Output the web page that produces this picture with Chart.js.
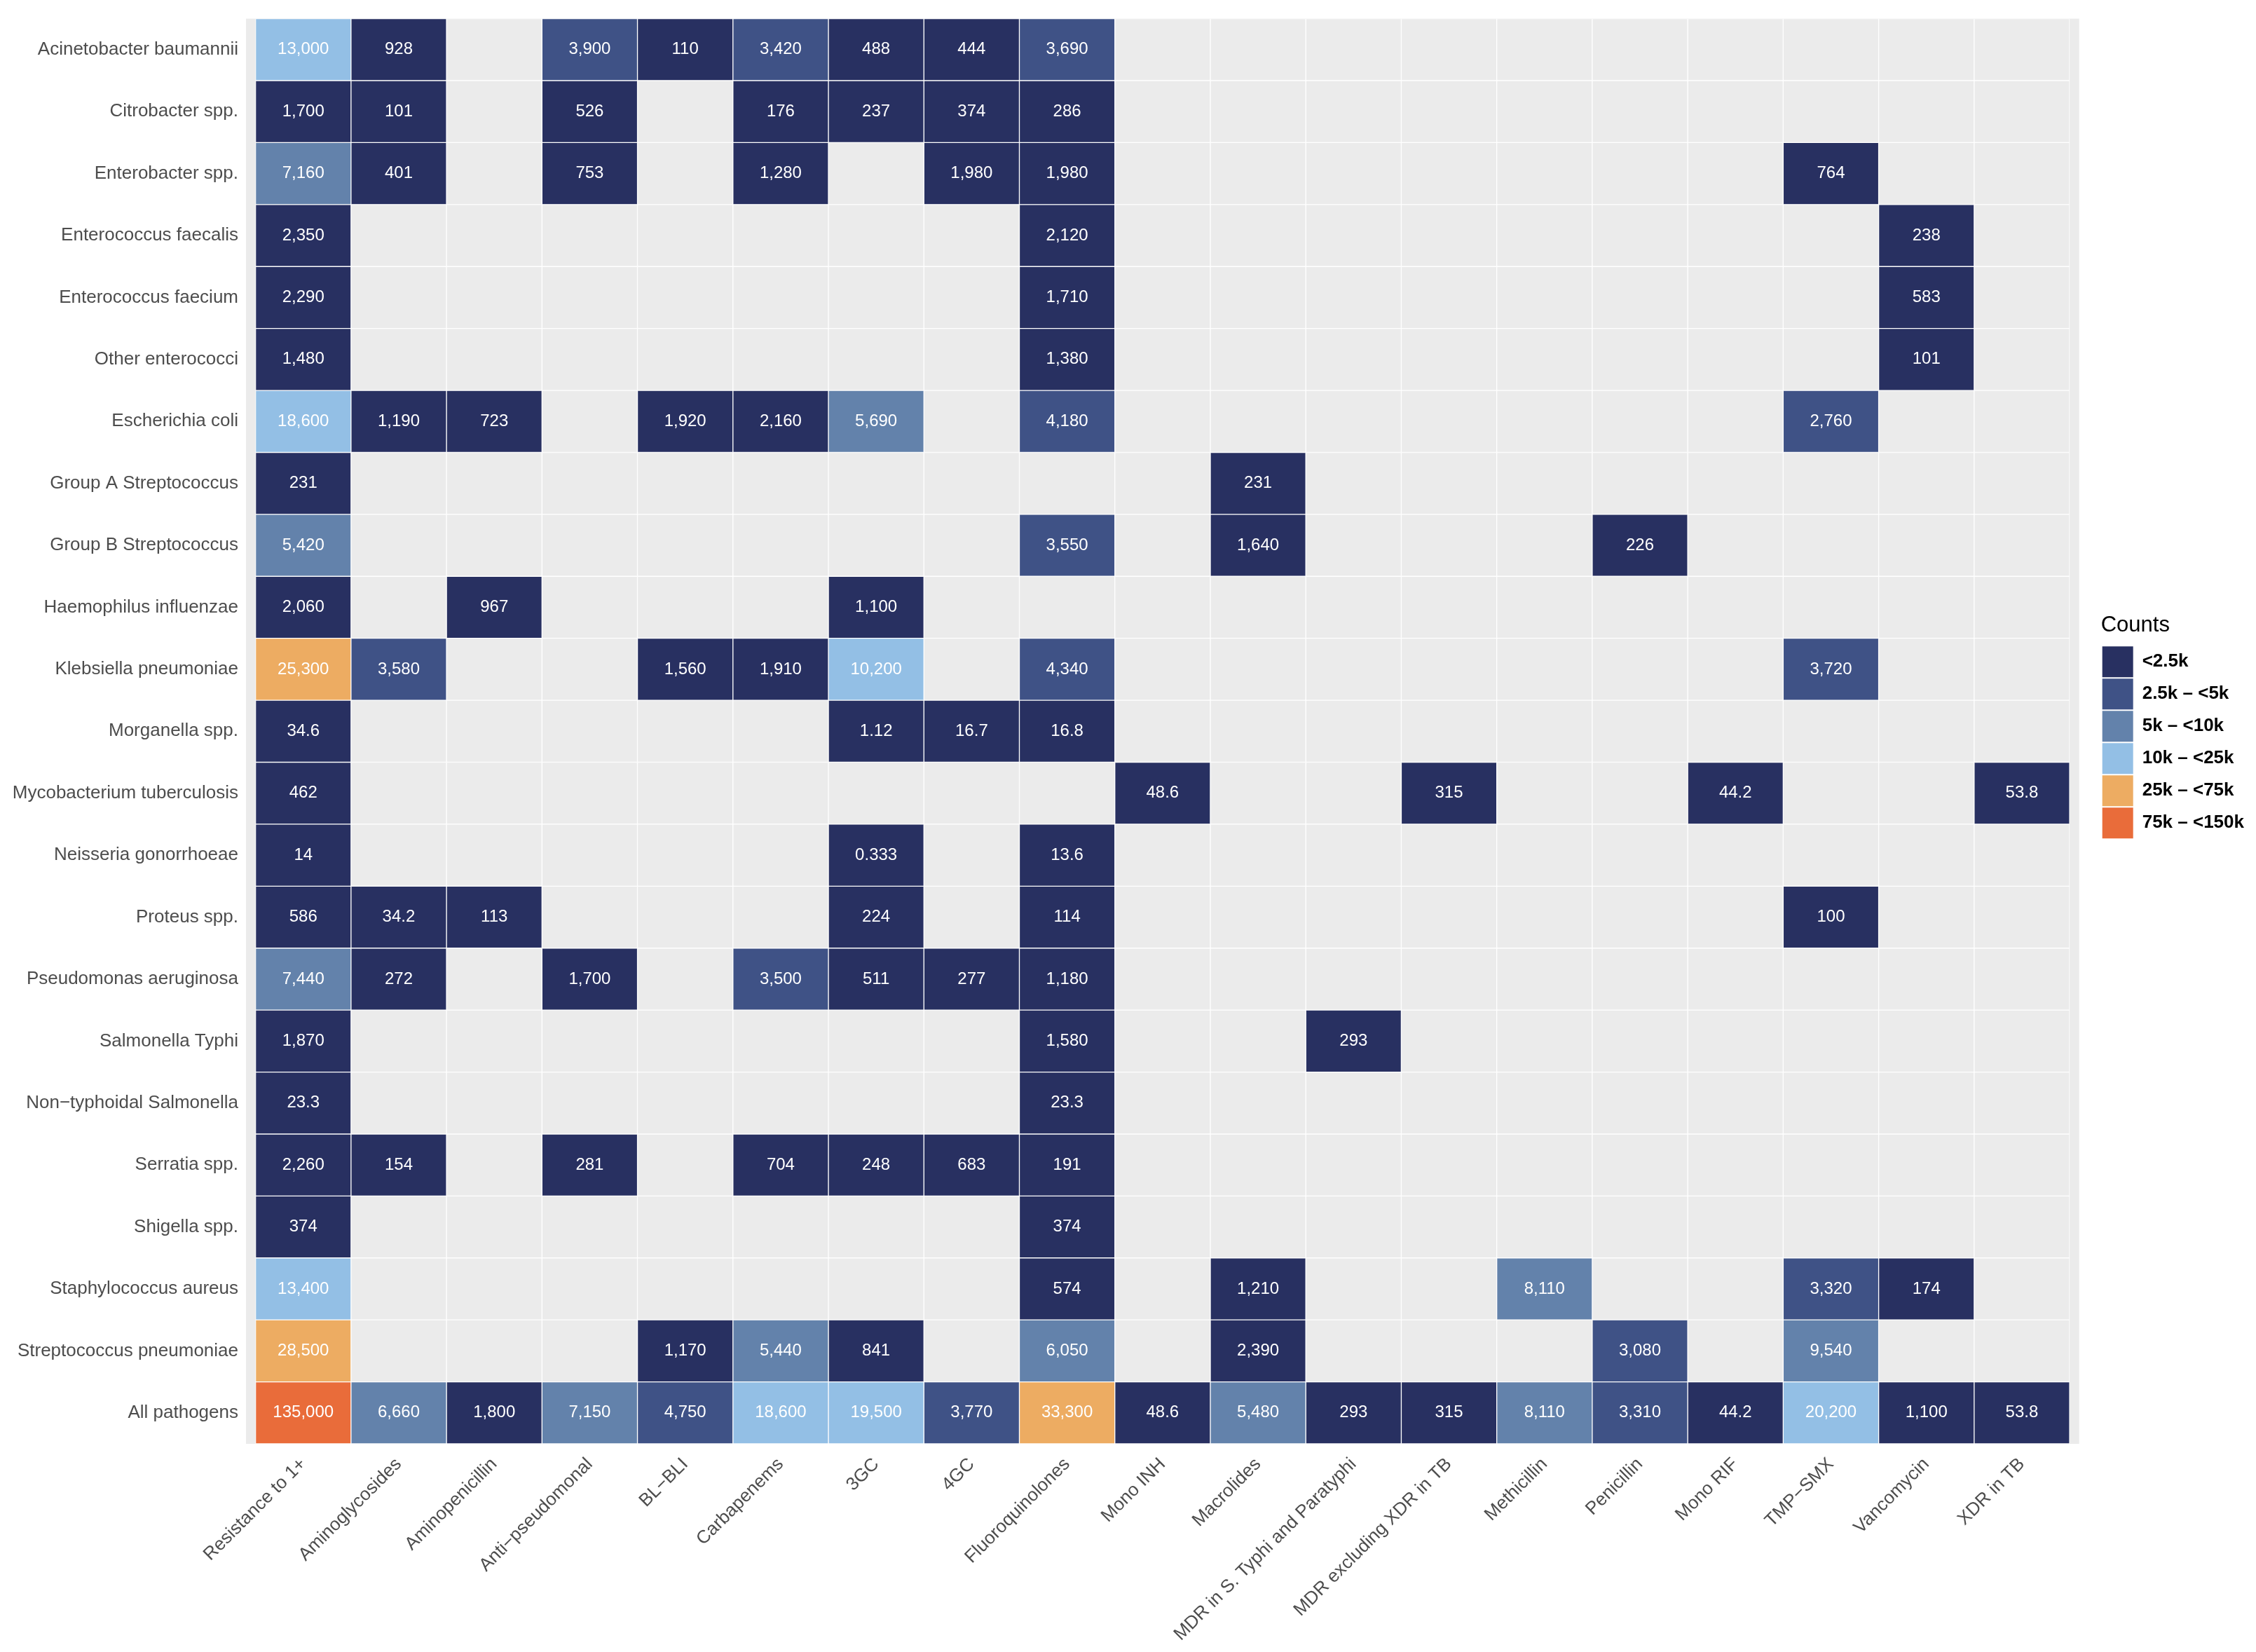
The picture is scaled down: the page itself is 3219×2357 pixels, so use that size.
<!DOCTYPE html>
<html>
<head>
<meta charset="utf-8">
<script src="https://cdn.jsdelivr.net/npm/chart.js@4/dist/chart.umd.min.js"></script>
<style>
  html, body { margin: 0; padding: 0; background: #FFFFFF; }
  canvas { display: block; }
</style>
</head>
<body>
<canvas id="chart" width="3219" height="2357"></canvas>
<script>
// ---------- data ----------
const pathogens = [
  'Acinetobacter baumannii', 'Citrobacter spp.', 'Enterobacter spp.', 'Enterococcus faecalis',
  'Enterococcus faecium', 'Other enterococci', 'Escherichia coli', 'Group A Streptococcus',
  'Group B Streptococcus', 'Haemophilus influenzae', 'Klebsiella pneumoniae', 'Morganella spp.',
  'Mycobacterium tuberculosis', 'Neisseria gonorrhoeae', 'Proteus spp.', 'Pseudomonas aeruginosa',
  'Salmonella Typhi', 'Non\u2212typhoidal Salmonella', 'Serratia spp.', 'Shigella spp.',
  'Staphylococcus aureus', 'Streptococcus pneumoniae', 'All pathogens'
];

const antibiotics = [
  'Resistance to 1+', 'Aminoglycosides', 'Aminopenicillin', 'Anti\u2212pseudomonal', 'BL\u2212BLI',
  'Carbapenems', '3GC', '4GC', 'Fluoroquinolones', 'Mono INH', 'Macrolides',
  'MDR in S. Typhi and Paratyphi', 'MDR excluding XDR in TB', 'Methicillin', 'Penicillin',
  'Mono RIF', 'TMP\u2212SMX', 'Vancomycin', 'XDR in TB'
];

// one array per antibiotic column, values in pathogen order (null = no estimate)
const resistance1      = [13000, 1700, 7160, 2350, 2290, 1480, 18600, 231, 5420, 2060, 25300, 34.6, 462, 14, 586, 7440, 1870, 23.3, 2260, 374, 13400, 28500, 135000];
const aminoglycosides  = [928, 101, 401, null, null, null, 1190, null, null, null, 3580, null, null, null, 34.2, 272, null, null, 154, null, null, null, 6660];
const aminopenicillin  = [null, null, null, null, null, null, 723, null, null, 967, null, null, null, null, 113, null, null, null, null, null, null, null, 1800];
const antiPseudomonal  = [3900, 526, 753, null, null, null, null, null, null, null, null, null, null, null, null, 1700, null, null, 281, null, null, null, 7150];
const blBli            = [110, null, null, null, null, null, 1920, null, null, null, 1560, null, null, null, null, null, null, null, null, null, null, 1170, 4750];
const carbapenems      = [3420, 176, 1280, null, null, null, 2160, null, null, null, 1910, null, null, null, null, 3500, null, null, 704, null, null, 5440, 18600];
const gc3              = [488, 237, null, null, null, null, 5690, null, null, 1100, 10200, 1.12, null, 0.333, 224, 511, null, null, 248, null, null, 841, 19500];
const gc4              = [444, 374, 1980, null, null, null, null, null, null, null, null, 16.7, null, null, null, 277, null, null, 683, null, null, null, 3770];
const fluoroquinolones = [3690, 286, 1980, 2120, 1710, 1380, 4180, null, 3550, null, 4340, 16.8, null, 13.6, 114, 1180, 1580, 23.3, 191, 374, 574, 6050, 33300];
const monoINH          = [null, null, null, null, null, null, null, null, null, null, null, null, 48.6, null, null, null, null, null, null, null, null, null, 48.6];
const macrolides       = [null, null, null, null, null, null, null, 231, 1640, null, null, null, null, null, null, null, null, null, null, null, 1210, 2390, 5480];
const mdrTyphi         = [null, null, null, null, null, null, null, null, null, null, null, null, null, null, null, null, 293, null, null, null, null, null, 293];
const mdrTB            = [null, null, null, null, null, null, null, null, null, null, null, null, 315, null, null, null, null, null, null, null, null, null, 315];
const methicillin      = [null, null, null, null, null, null, null, null, null, null, null, null, null, null, null, null, null, null, null, null, 8110, null, 8110];
const penicillin       = [null, null, null, null, null, null, null, null, 226, null, null, null, null, null, null, null, null, null, null, null, null, 3080, 3310];
const monoRIF          = [null, null, null, null, null, null, null, null, null, null, null, null, 44.2, null, null, null, null, null, null, null, null, null, 44.2];
const tmpSmx           = [null, null, 764, null, null, null, 2760, null, null, null, 3720, null, null, null, 100, null, null, null, null, null, 3320, 9540, 20200];
const vancomycin       = [null, null, null, 238, 583, 101, null, null, null, null, null, null, null, null, null, null, null, null, null, null, 174, null, 1100];
const xdrTB            = [null, null, null, null, null, null, null, null, null, null, null, null, 53.8, null, null, null, null, null, null, null, null, null, 53.8];

const columns = [resistance1, aminoglycosides, aminopenicillin, antiPseudomonal, blBli, carbapenems,
  gc3, gc4, fluoroquinolones, monoINH, macrolides, mdrTyphi, mdrTB, methicillin, penicillin,
  monoRIF, tmpSmx, vancomycin, xdrTB];

// legend bins
const binLabels = ['<2.5k', '2.5k \u2013 <5k', '5k \u2013 <10k', '10k \u2013 <25k', '25k \u2013 <75k', '75k \u2013 <150k'];
const binUpper  = [2500, 5000, 10000, 25000, 75000, 150000];

// ---------- styles ----------
const binColors = ['#283061', '#3F5286', '#6382AB', '#93BFE5', '#EDAC62', '#E96C3A'];
const panelColor = '#EBEBEB';
const FONT = '"Liberation Sans", Arial, Helvetica, sans-serif';

function colorFor(v) {
  if (v === null || v === undefined) return panelColor;
  for (let i = 0; i < binUpper.length; i++) if (v < binUpper[i]) return binColors[i];
  return binColors[binColors.length - 1];
}
function fmt(v) {
  return v.toLocaleString('en-US', { maximumFractionDigits: 3 });
}

Chart.defaults.font.family = FONT;

const datasets = columns.map((vals, c) => ({
  label: antibiotics[c],
  data: pathogens.map(() => [c - 0.5, c + 0.5]),
  counts: vals,
  backgroundColor: (ctx) => colorFor(vals[ctx.dataIndex]),
  borderColor: '#FFFFFF',
  borderWidth: 1,
  borderSkipped: false,
  grouped: false,
  barPercentage: 1,
  categoryPercentage: 1
}));

const panelPlugin = {
  id: 'panel',
  beforeDatasetsDraw(chart) {
    const { ctx, chartArea: a } = chart;
    ctx.save();
    ctx.fillStyle = panelColor;
    ctx.fillRect(a.left, a.top, a.right - a.left, a.bottom - a.top);
    ctx.restore();
  }
};

const cellLabelPlugin = {
  id: 'cellLabels',
  afterDatasetsDraw(chart) {
    const { ctx } = chart;
    ctx.save();
    ctx.font = '24px ' + FONT;
    ctx.fillStyle = '#FFFFFF';
    ctx.textAlign = 'center';
    ctx.textBaseline = 'middle';
    chart.data.datasets.forEach((ds, di) => {
      const meta = chart.getDatasetMeta(di);
      meta.data.forEach((el, r) => {
        const v = ds.counts[r];
        if (v === null || v === undefined) return;
        const p = el.getCenterPoint();
        ctx.fillText(fmt(v), p.x, p.y);
      });
    });
    ctx.restore();
  }
};

new Chart(document.getElementById('chart'), {
  type: 'bar',
  data: { labels: pathogens, datasets },
  plugins: [panelPlugin, cellLabelPlugin],
  options: {
    indexAxis: 'y',
    responsive: false,
    devicePixelRatio: 1,
    animation: false,
    events: [],
    layout: { padding: { top: 14, right: 7, bottom: 0, left: 0 } },
    plugins: {
      tooltip: { enabled: false },
      legend: {
        display: true,
        position: 'right',
        align: 'start',
        onClick: null,
        title: {
          display: true,
          text: 'Counts',
          position: 'start',
          color: '#000000',
          font: { size: 31, family: FONT },
          padding: { top: 863, bottom: 6 }
        },
        labels: {
          boxWidth: 44,
          boxHeight: 44,
          padding: 2,
          color: '#000000',
          font: { size: 26, weight: 'bold', family: FONT },
          generateLabels: () => binLabels.map((t, i) => ({
            text: t,
            fillStyle: binColors[i],
            strokeStyle: binColors[i],
            lineWidth: 0,
            hidden: false,
            datasetIndex: 0
          }))
        }
      }
    },
    scales: {
      x: {
        type: 'linear',
        position: 'bottom',
        min: -0.6,
        max: antibiotics.length - 0.4,
        afterBuildTicks: (scale) => { scale.ticks = antibiotics.map((_, i) => ({ value: i })); },
        afterFit: (scale) => { scale.height = 297; },
        grid: { display: false, drawTicks: false },
        border: { display: false },
        ticks: {
          autoSkip: false,
          maxRotation: 45,
          minRotation: 45,
          padding: 14,
          color: '#4D4D4D',
          font: { size: 26, family: FONT },
          callback: (v) => antibiotics[v]
        }
      },
      y: {
        type: 'category',
        offset: true,
        afterFit: (scale) => { scale.width = 351; },
        grid: { display: false, drawTicks: false },
        border: { display: false },
        ticks: {
          autoSkip: false,
          padding: 11,
          color: '#4D4D4D',
          font: { size: 26, family: FONT }
        }
      },
      spacer: {
        type: 'linear',
        axis: 'y',
        position: 'right',
        display: true,
        grid: { display: false, drawTicks: false },
        border: { display: false },
        ticks: { display: false },
        afterFit: (scale) => { scale.width = 31; }
      }
    }
  }
});
</script>
</body>
</html>
